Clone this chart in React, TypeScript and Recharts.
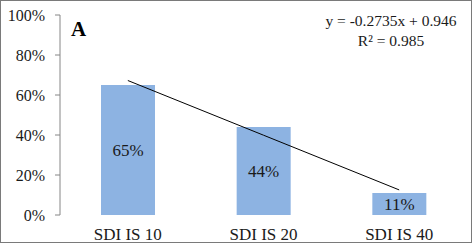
import React from 'react';
import { ComposedChart, Bar, Line, XAxis, YAxis, LabelList } from 'recharts';

const categories = ['SDI IS 10', 'SDI IS 20', 'SDI IS 40'];
const shares = [0.65, 0.44, 0.11];
// linear trend from the reference: y = -0.2735x + 0.946
const trend = [0.6725, 0.399, 0.1255];
const yTicks = [0, 0.2, 0.4, 0.6, 0.8, 1];
const edgeTicks = [0, 1, 2, 3];

const data = categories.map((name, i) => ({ name, share: shares[i], trend: trend[i] }));

const FONT = '"Liberation Serif", "Times New Roman", serif';
const AXIS = '#868686';
const TEXT = '#1a1a1a';

const pct = (v: number) => `${Math.round(v * 100)}%`;

const BarValue = (props: any) => {
  const { x, y, width, height, value } = props;
  return (
    <text
      x={x + width / 2}
      y={y + height / 2}
      textAnchor="middle"
      dominantBaseline="central"
      fontSize={17}
      fontFamily={FONT}
      fill={TEXT}
    >
      {pct(value)}
    </text>
  );
};

const App: React.FC = () => {
  return (
    <div
      style={{
        position: 'absolute',
        left: 0,
        top: 0,
        width: 472,
        height: 243,
        boxSizing: 'border-box',
        border: '1px solid #7a7a7a',
        background: '#fff',
        fontFamily: FONT,
      }}
    >
      <div style={{ position: 'absolute', left: -1, top: -1 }}>
        <ComposedChart width={472} height={243} data={data} margin={{ top: 15, right: 5, bottom: 0, left: 0 }}>
          <XAxis
            xAxisId="edge"
            type="number"
            domain={[0, 3]}
            ticks={edgeTicks}
            tick={false}
            height={0}
            tickSize={5}
            stroke={AXIS}
            allowDataOverflow
          />
          <XAxis
            xAxisId="cat"
            dataKey="name"
            height={28}
            axisLine={false}
            tickLine={false}
            tickSize={0}
            tickMargin={13}
            tick={{ fill: TEXT, fontSize: 17, fontFamily: FONT }}
          />
          <YAxis
            domain={[0, 1]}
            ticks={yTicks}
            tickFormatter={pct}
            width={60}
            tickSize={5}
            tickMargin={10}
            stroke={AXIS}
            tick={{ fill: TEXT, fontSize: 16, fontFamily: FONT }}
            interval={0}
          />
          <Bar xAxisId="cat" dataKey="share" fill="#8DB3E2" barSize={54} isAnimationActive={false}>
            <LabelList dataKey="share" content={BarValue} />
          </Bar>
          <Line
            xAxisId="cat"
            dataKey="trend"
            stroke="#000"
            strokeWidth={1}
            dot={false}
            activeDot={false}
            isAnimationActive={false}
          />
          <text x={71} y={36} fontSize={21} fontWeight="bold" fontFamily={FONT} fill="#000">
            A
          </text>
          <text x={391} y={26} textAnchor="middle" fontSize={15.5} fontFamily={FONT} fill={TEXT}>
            y = -0.2735x + 0.946
          </text>
          <text x={391} y={46} textAnchor="middle" fontSize={15.5} fontFamily={FONT} fill={TEXT}>
            R² = 0.985
          </text>
        </ComposedChart>
      </div>
    </div>
  );
};

export default App;
